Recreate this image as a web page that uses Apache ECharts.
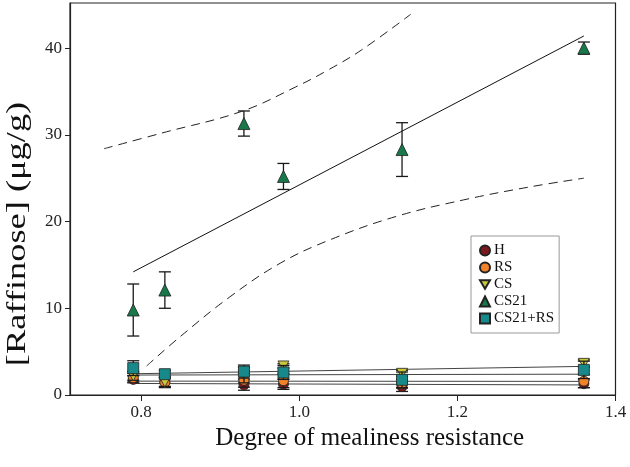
<!DOCTYPE html>
<html>
<head>
<meta charset="utf-8">
<script src="https://cdn.jsdelivr.net/npm/echarts@6/dist/echarts.min.js"></script>
<style>html,body{margin:0;padding:0;background:#fff}#c{width:630px;height:467px}</style>
</head>
<body>
<div id="c"></div>
<script>
// ---- data ----
const xVals = [0.79, 0.83, 0.93, 0.98, 1.13, 1.36];
const seriesNames = ['H', 'RS', 'CS', 'CS21', 'CS21+RS'];
const hVals = [1.8, 1.5, 1.15, 1.25, 0.96, 1.3];
const hErr = [0.4, 0.6, 0.6, 0.6, 0.55, 0.45];
const rsVals = [2.0, 1.45, 1.7, 1.65, 1.3, 1.6];
const rsErr = [0.5, 0.6, 0.8, 0.8, 0.5, 0.75];
const csVals = [2.2, 1.5, 2.3, 3.35, 2.5, 3.65];
const csErr = [0.5, 0.5, 0.9, 0.25, 0.35, 0.4];
const cs21Vals = [9.8, 12.1, 31.3, 25.2, 28.3, 40.0];
const cs21Err = [3.0, 2.1, 1.45, 1.5, 3.1, 0.7];
const cs21rsVals = [3.1, 2.4, 2.7, 2.6, 1.75, 2.9];
const cs21rsErr = [0.85, 0.45, 0.75, 0.8, 0.9, 1.0];
// fitted lines (end points)
const fitX = [0.79, 1.36];
const hFit = [1.33, 1.16];
const rsFit = [1.6, 1.57];
const csFit = [2.45, 3.3];
const cs21Fit = [14.2, 41.4];
const cs21rsFit = [2.3, 2.4];
// confidence bands of CS21 fit
const upperBandX = [0.753, 0.826, 0.927, 0.995, 1.037, 1.079, 1.141];
const upperBandY = [28.4, 30.2, 32.7, 35.5, 37.5, 39.8, 43.9];
const lowerBandX = [0.807, 0.849, 0.912, 0.976, 1.039, 1.123, 1.208, 1.292, 1.360];
const lowerBandY = [3.35, 6.7, 11.3, 15.2, 17.9, 20.6, 22.5, 24.0, 25.0];
const xTicks = [0.8, 1.0, 1.2, 1.4];
const yTicks = [0, 10, 20, 30, 40];
const xTitle = 'Degree of mealiness resistance';
const yTitle = '[Raffinose] (\u03bcg/g)';

const colors = ['#7a1a1f', '#f0832a', '#c9c83a', '#17784a', '#17898a'];
const symbols = ['circle', 'circle', 'path://M0,0L10,0L5,8.66Z', 'triangle', 'rect'];
const sizes = [10, 10, [11, 10], 12, 11];
const vals = [hVals, rsVals, csVals, cs21Vals, cs21rsVals];
const errs = [hErr, rsErr, csErr, cs21Err, cs21rsErr];
const fits = [hFit, rsFit, csFit, cs21Fit, cs21rsFit];
const FONT = 'Liberation Serif';

function errRender(params, api) {
  const x = api.value(0), lo = api.value(1), hi = api.value(2);
  const p1 = api.coord([x, lo]), p2 = api.coord([x, hi]);
  const hw = 6;
  const st = {stroke: '#1a1a1a', lineWidth: 1.3};
  return {type: 'group', children: [
    {type: 'line', shape: {x1: p1[0], y1: p1[1], x2: p2[0], y2: p2[1]}, style: st},
    {type: 'line', shape: {x1: p1[0] - hw, y1: p1[1], x2: p1[0] + hw, y2: p1[1]}, style: st},
    {type: 'line', shape: {x1: p2[0] - hw, y1: p2[1], x2: p2[0] + hw, y2: p2[1]}, style: st}
  ]};
}

const series = [];
fits.forEach((f, i) => {
  series.push({
    type: 'line', name: 'fit' + i, data: fitX.map((x, k) => [x, f[k]]),
    symbol: 'none', silent: true, z: 1,
    lineStyle: {color: i === 3 ? '#111' : '#444', width: 1}
  });
});
series.push({
  type: 'line', name: 'upper', data: upperBandX.map((x, k) => [x, upperBandY[k]]),
  symbol: 'none', smooth: 0.4, silent: true, z: 1,
  lineStyle: {color: '#222', width: 1, type: [9, 6]}
});
series.push({
  type: 'line', name: 'lower', data: lowerBandX.map((x, k) => [x, lowerBandY[k]]),
  symbol: 'none', smooth: 0.4, silent: true, z: 1,
  lineStyle: {color: '#222', width: 1, type: [9, 6]}
});
seriesNames.forEach((n, i) => {
  series.push({
    type: 'custom', name: 'err' + i, renderItem: errRender, silent: true, z: 2 + i * 2,
    encode: {x: 0, y: [1, 2]},
    data: xVals.map((x, k) => [x, vals[i][k] - errs[i][k], vals[i][k] + errs[i][k]])
  });
  series.push({
    type: 'scatter', name: n, symbol: symbols[i], symbolSize: sizes[i], z: 3 + i * 2,
    itemStyle: {color: colors[i], borderColor: '#222', borderWidth: 0.8, opacity: 1},
    data: xVals.map((x, k) => [x, vals[i][k]])
  });
});

const chart = echarts.init(document.getElementById('c'), null, {renderer: 'canvas'});
chart.setOption({
  animation: false,
  backgroundColor: '#fff',
  textStyle: {fontFamily: FONT},
  grid: {left: 70, right: 14.5, top: 3, bottom: 72, show: true, borderColor: '#222', borderWidth: 1.2, containLabel: false},
  legend: {
    data: seriesNames, orient: 'vertical', left: 471, top: 236,
    padding: [7, 5, 7, 8], itemGap: 2, itemWidth: 10, itemHeight: 10,
    borderColor: '#999', borderWidth: 1, backgroundColor: '#fff',
    textStyle: {fontFamily: FONT, fontSize: 15, color: '#111', padding: [0, 0, 0, -1]}
  },
  graphic: [{
    type: 'text', x: 18, y: 234, rotation: Math.PI / 2, scaleX: 1.3, silent: true,
    style: {text: yTitle, fontFamily: FONT, fontSize: 28, fill: '#111', align: 'center', verticalAlign: 'middle'}
  }],
  xAxis: {
    type: 'value', min: 0.71, max: 1.4,
    name: xTitle, nameLocation: 'middle', nameGap: 31,
    nameTextStyle: {fontFamily: FONT, fontSize: 25, color: '#111', padding: [0, 0, 0, 54]},
    axisLine: {show: true, lineStyle: {color: '#222', width: 1.2}},
    axisTick: {show: true, length: 6, customValues: xTicks, lineStyle: {color: '#222'}},
    axisLabel: {customValues: xTicks, margin: 9, fontFamily: FONT, fontSize: 17, color: '#222',
      formatter: v => v.toFixed(1)},
    splitLine: {show: false}
  },
  yAxis: {
    type: 'value', min: 0, max: 45.2,
    axisLine: {show: true, lineStyle: {color: '#222', width: 1.2}},
    axisTick: {show: true, length: 5, customValues: yTicks, lineStyle: {color: '#222'}},
    axisLabel: {customValues: yTicks, margin: 8, fontFamily: FONT, fontSize: 17, color: '#222'},
    splitLine: {show: false}
  },
  series: series
});
</script>
</body>
</html>
